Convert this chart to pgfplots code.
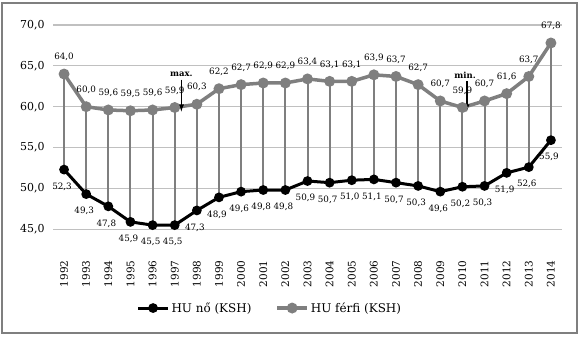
\documentclass[border=0pt]{standalone}
\usepackage{pgfplots}
\pgfplotsset{compat=1.18}
\usepackage{pgfplotstable}
\usepackage{fontspec}
\setmainfont{DejaVu Serif}
\definecolor{mgray}{HTML}{7F7F7F}
\definecolor{ggray}{HTML}{C0C0C0}
\pgfplotstableread{
year women men
1992 52.3 64.0
1993 49.3 60.0
1994 47.8 59.6
1995 45.9 59.5
1996 45.5 59.6
1997 45.5 59.9
1998 47.3 60.3
1999 48.9 62.2
2000 49.6 62.7
2001 49.8 62.9
2002 49.8 62.9
2003 50.9 63.4
2004 50.7 63.1
2005 51.0 63.1
2006 51.1 63.9
2007 50.7 63.7
2008 50.3 62.7
2009 49.6 60.7
2010 50.2 59.9
2011 50.3 60.7
2012 51.9 61.6
2013 52.6 63.7
2014 55.9 67.8
}\datatable
\begin{document}
\begin{tikzpicture}
\useasboundingbox (0,0) rectangle (580bp,337bp);
\draw[mgray, line width=1.3bp] (2bp,4bp) rectangle (577bp,334bp);
\begin{axis}[
  at={(53bp,80bp)}, anchor=south west,
  scale only axis, width=509bp, height=232bp,
  xmin=1991.5, xmax=2014.5, ymin=41.6, ymax=70,
  xtick={1992,...,2014}, ytick={45,50,...,70},
  axis line style={draw=none}, tick style={draw=none},
  ymajorgrids, grid style={ggray, line width=1.2bp},
  /pgf/number format/assume math mode=true,
  xticklabel style={rotate=90, anchor=east, font=\fontsize{10.5}{11}\selectfont, /pgf/number format/1000 sep={}},
  yticklabel style={font=\fontsize{11}{12}\selectfont, xshift=-5bp, /pgf/number format/.cd, fixed, fixed zerofill, precision=1, use comma},
  legend style={draw=none, at={(0.426,-0.22)}, anchor=center, legend columns=2, font=\fontsize{12}{13}\selectfont, /tikz/every even column/.append style={column sep=22bp}},
  legend image code/.code={\draw[mark repeat=2,mark phase=2,#1] plot coordinates {(0bp,0bp) (15bp,0bp) (30bp,0bp)};},
  clip=false,
]
\addplot[draw=none, forget plot, error bars/.cd, y dir=minus, y explicit, error mark=none, error bar style={mgray, line width=2bp}]
  table[x=year, y=men, y error minus expr=\thisrow{men}-\thisrow{women}] {\datatable};
\addplot[black, line width=3bp, mark=*, mark size=3.3bp, mark options={solid},
  nodes near coords, every node near coord/.append style={font=\fontsize{8.8}{9}\selectfont, anchor=center, yshift=-17bp, xshift=-2bp, black, /pgf/number format/.cd, fixed, fixed zerofill, precision=1, use comma}]
  table[x=year, y=women] {\datatable};
\addlegendentry{HU nő (KSH)}
\addplot[mgray, line width=3.5bp, mark=*, mark size=3.6bp, mark options={solid},
  nodes near coords, every node near coord/.append style={font=\fontsize{8.8}{9}\selectfont, anchor=center, yshift=17bp, black, /pgf/number format/.cd, fixed, fixed zerofill, precision=1, use comma}]
  table[x=year, y=men] {\datatable};
\addlegendentry{HU férfi (KSH)}
\draw[-latex, black, line width=1.5bp] (axis cs:1997.3,63.3) -- (axis cs:1997.3,59.4);
\node[font=\bfseries\fontsize{8.5}{9}\selectfont, inner sep=0pt] at (axis cs:1997.3,64.0) {max.};
\draw[-latex, black, line width=1.5bp] (axis cs:2010.2,63.1) -- (axis cs:2010.2,59.4);
\node[font=\bfseries\fontsize{8.5}{9}\selectfont, inner sep=0pt] at (axis cs:2010.12,63.85) {min.};
\end{axis}
\end{tikzpicture}
\end{document}
